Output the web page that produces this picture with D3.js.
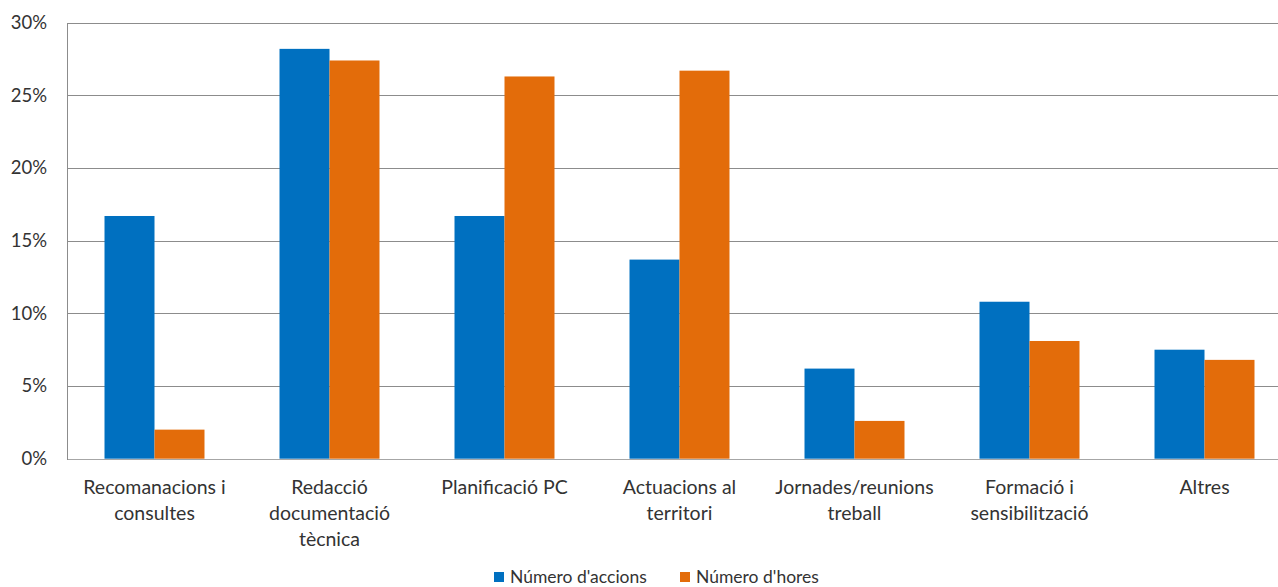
<!DOCTYPE html>
<html><head><meta charset="utf-8">
<script src="https://cdn.jsdelivr.net/npm/d3@7"></script>
<style>body{margin:0;background:#fff;overflow:hidden}svg{display:block}text{font-family:Lato,"Open Sans",sans-serif;fill:#333}</style>
</head><body>
<script>
const categories = [["Recomanacions i","consultes"],["Redacció","documentació","tècnica"],["Planificació PC"],["Actuacions al","territori"],["Jornades/reunions","treball"],["Formació i","sensibilització"],["Altres"]];
const seriesNames = ["Número d'accions","Número d'hores"];
const accions = [16.7, 28.2, 16.7, 13.7, 6.2, 10.8, 7.5];
const hores = [2.0, 27.4, 26.3, 26.7, 2.6, 8.1, 6.8];
const colors = ["#0070C0","#E36C0A"];
const yTicks = [0,5,10,15,20,25,30];

const W=1278,H=587;
const m={l:67,t:22.7,b:458.7};
const plotW=1225;
const svg=d3.select("body").append("svg").attr("width",W).attr("height",H);
const idx=categories.map((d,i)=>i);
const x=d3.scaleBand().domain(idx).range([m.l,m.l+plotW]).paddingInner(0.4286).paddingOuter(0.2143);
const xs=d3.scaleBand().domain([0,1]).range([0,x.bandwidth()]);
const y=d3.scaleLinear().domain([0,30]).range([m.b,m.t]);

// gridlines
svg.append("g").selectAll("line").data(yTicks).join("line")
 .attr("x1",m.l).attr("x2",m.l+plotW).attr("y1",d=>Math.round(y(d))+0.5).attr("y2",d=>Math.round(y(d))+0.5)
 .attr("stroke",d=>d===0?"#a6a6a6":"#8c8c8c").attr("stroke-width",1);
svg.append("line").attr("x1",m.l+0.5).attr("x2",m.l+0.5).attr("y1",Math.round(y(30))).attr("y2",Math.round(y(0))+1).attr("stroke","#8c8c8c");

// y axis labels
const yAxis=d3.axisLeft(y).tickValues(yTicks).tickFormat(d=>d+"%").tickSize(0).tickPadding(20);
const ga=svg.append("g").attr("transform",`translate(${m.l},0)`).call(yAxis);
ga.select(".domain").remove();
ga.selectAll("text").style("font-size","18.5px").style("font-family","Lato").attr("fill","#333");

// bars
const data=idx.map(i=>[accions[i],hores[i]]);
const g=svg.append("g").selectAll("g").data(data).join("g").attr("transform",(d,i)=>`translate(${x(i)},0)`);
g.selectAll("rect").data(d=>d).join("rect")
 .attr("x",(d,j)=>xs(j)).attr("width",xs.bandwidth())
 .attr("y",d=>y(d)).attr("height",d=>y(0)-y(d)).attr("fill",(d,j)=>colors[j]);

// x labels
const lab=svg.append("g").selectAll("text").data(categories).join("text")
 .attr("x",(d,i)=>x(i)+x.bandwidth()/2).attr("y",494).attr("text-anchor","middle").style("font-size","19.5px");
lab.selectAll("tspan").data(d=>d).join("tspan").attr("x",function(){return this.parentNode.getAttribute("x")}).attr("dy",(d,i)=>i?26:0).text(d=>d);

// legend
const lx=[494,680];
const lg=svg.append("g").selectAll("g").data(seriesNames).join("g").attr("transform",(d,i)=>`translate(${lx[i]},0)`);
lg.append("rect").attr("x",0).attr("y",572).attr("width",10).attr("height",10).attr("fill",(d,i)=>colors[i]);
lg.append("text").attr("x",16).attr("y",583).style("font-size","17.5px").text(d=>d);
</script>
</body></html>
